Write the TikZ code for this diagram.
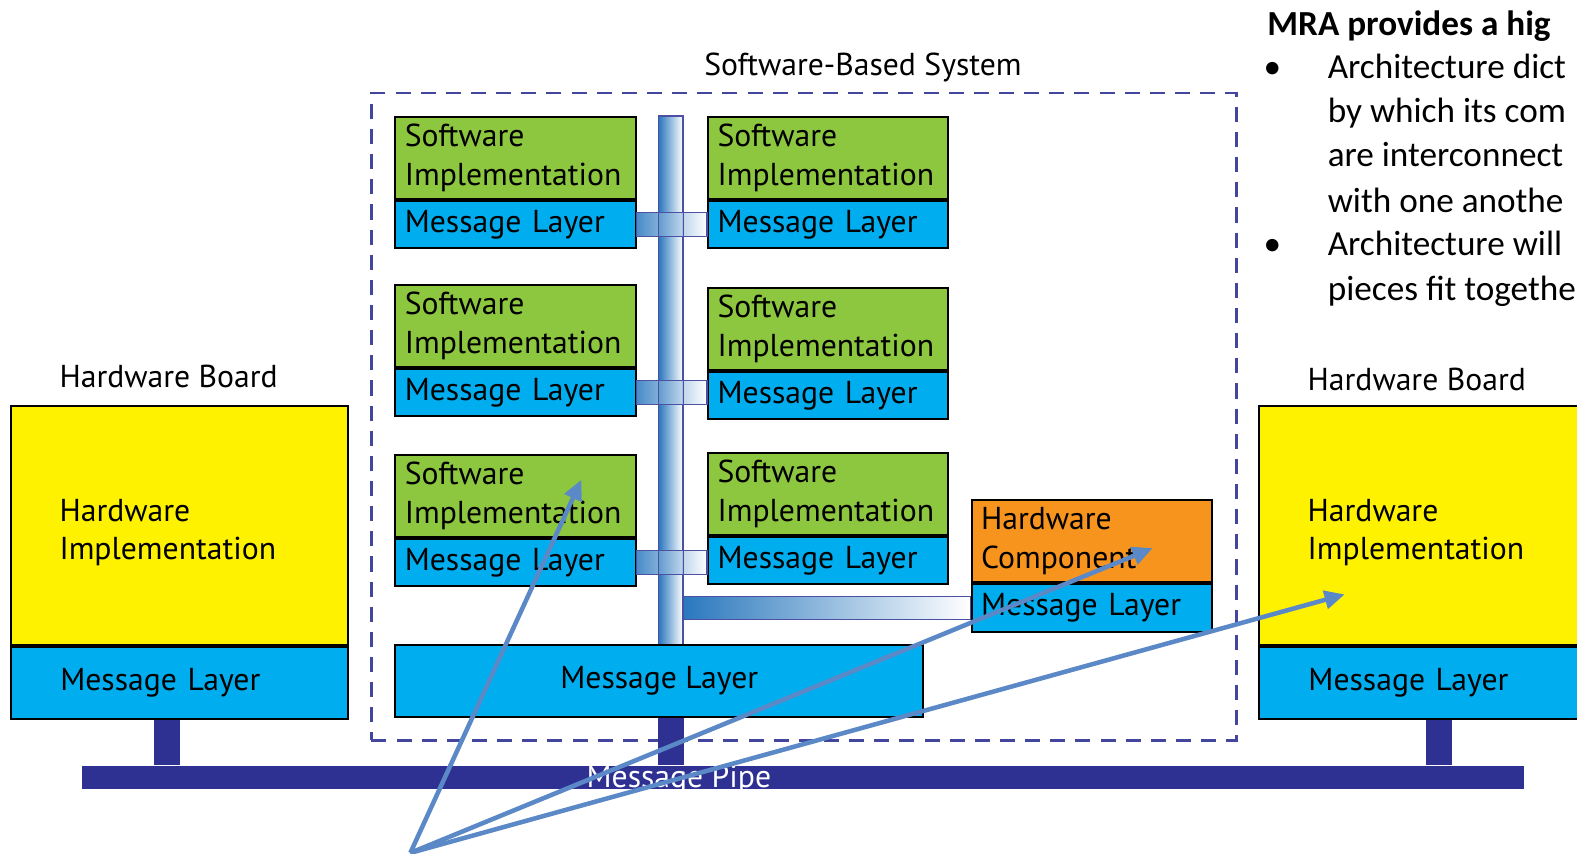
\documentclass[tikz,border=0pt]{standalone}
\usepackage{fontspec}
\setmainfont{PT Sans}
\newfontfamily\notefont{Carlito}
\usetikzlibrary{positioning,arrows.meta}

\definecolor{swgreen}{HTML}{8DC63F}
\definecolor{msgblue}{HTML}{00AEEF}
\definecolor{hwyellow}{HTML}{FFF200}
\definecolor{hworange}{HTML}{F7941D}
\definecolor{pipenavy}{HTML}{2E3192}
\definecolor{busblue}{HTML}{2A78BE}
\definecolor{callblue}{HTML}{5B88C6}

\begin{document}
\begin{tikzpicture}
 [x=1pt, y=-1pt,
  box text/.style={font=\fontsize{31.5}{38.5}\selectfont},
  sw node/.style={box text, draw, line width=2pt, fill=swgreen, minimum height=82pt, text width=220pt, inner xsep=9.5pt, inner ysep=0pt, align=left},
  hwc node/.style={sw node, fill=hworange},
  msg node/.style={box text, draw, line width=2pt, fill=msgblue, minimum height=47pt, text width=220pt, inner xsep=9.5pt, inner ysep=0pt, align=left},
  hw node/.style={draw, line width=2pt, fill=hwyellow, minimum width=335pt, minimum height=237pt, inner sep=0pt},
  hw text/.style={box text, align=left, anchor=west, inner sep=0pt, xshift=49pt, yshift=-7pt},
  board msg/.style={msg node, minimum height=72pt, text width=237pt, inner xsep=49pt},
  bus/.style={draw=pipenavy!85, line width=1.2pt, left color=busblue, right color=white},
  stem/.style={draw=pipenavy, line width=26pt},
  sysframe/.style={draw=pipenavy!90!white, line width=2.5pt, dash pattern=on 15pt off 10pt},
  call arrow/.style={draw=callblue, line width=4.5pt, -{Triangle[length=20pt,width=18pt]}},
  note/.style={font=\notefont\fontsize{35}{44}\selectfont, inner sep=0pt}]

 \useasboundingbox (0,0) rectangle (1568,849);
 \fill[white] (0,0) rectangle (1568,849);

 % system frame
 \node[sysframe, anchor=north west, minimum width=860pt, minimum height=644pt] (sys) at (368,91) {};
 \node[box text] (syslabel) at (858,67) {Software-Based System};

 % software modules
 \node[sw node, anchor=north west] (sw1) at (392,115) {Software\\Implementation};
 \node[msg node, below=0pt of sw1] (ml1) {Message Layer};
 \node[sw node, anchor=north west] (sw2) at (392,282) {Software\\Implementation};
 \node[msg node, below=0pt of sw2] (ml2) {Message Layer};
 \node[sw node, anchor=north west] (sw3) at (392,451) {Software\\Implementation};
 \node[msg node, below=0pt of sw3] (ml3) {Message Layer};

 \node[sw node, anchor=north west] (sw4) at (703,115) {Software\\Implementation};
 \node[msg node, below=0pt of sw4] (ml4) {Message Layer};
 \node[sw node, anchor=north west] (sw5) at (703,285) {Software\\Implementation};
 \node[msg node, below=0pt of sw5] (ml5) {Message Layer};
 \node[sw node, anchor=north west] (sw6) at (703,449) {Software\\Implementation};
 \node[msg node, below=0pt of sw6] (ml6) {Message Layer};

 \node[hwc node, anchor=north west] (hwc) at (965,496) {Hardware\\Component};
 \node[msg node, below=0pt of hwc] (hcm) {Message Layer};

 % internal bus
 \node[bus, anchor=north, minimum width=24pt, minimum height=525pt, inner sep=0pt] (vbus) at (667,115) {};
 \path[bus, fill opacity=0.85] ([yshift=12pt]ml1.east) rectangle ([yshift=-12pt]ml1.east -| ml4.west);
 \path[bus, fill opacity=0.85] ([yshift=12pt]ml2.east) rectangle ([yshift=-12pt]ml2.east -| ml5.west);
 \path[bus, fill opacity=0.85] ([yshift=12pt]ml3.east) rectangle ([yshift=-12pt]ml3.east -| ml6.west);
 \draw[pipenavy!85, line width=1.2pt] (vbus.north west) rectangle (vbus.south east);
 \path[bus] ([yshift=11.5pt]hcm.west -| vbus.east) rectangle ([yshift=-11.5pt]hcm.west);

 \node[box text, draw, line width=2pt, fill=msgblue, anchor=north west, minimum width=525pt, minimum height=72pt] (bigmsg) at (392,640) {Message Layer};

 % hardware boards
 \node[hw node, anchor=north west, label={[hw text]west:Hardware\\Implementation}] (lhw) at (10,403) {};
 \node[board msg, below=0pt of lhw] (lhm) {Message Layer};
 \node[box text, anchor=west, inner sep=0pt] (lhwlabel) at (59,374) {Hardware Board};

 \node[hw node, anchor=north west, label={[hw text]west:Hardware\\Implementation}] (rhw) at (1251,403) {};
 \node[board msg, below=0pt of rhw] (rhm) {Message Layer};
 \node[box text, anchor=west, inner sep=0pt] (rhwlabel) at (1300,377) {Hardware Board};

 % message pipe
 \node[fill=pipenavy, anchor=north west, minimum width=1434pt, minimum height=23pt, inner sep=0pt] (pipe) at (81,761) {};
 \coordinate (lstem) at ([xshift=156pt]lhm.south west);
 \coordinate (rstem) at ([xshift=180pt]rhm.south west);
 \draw[stem] (lstem) -- (lstem |- pipe.north);
 \draw[stem] (vbus.south |- bigmsg.south) -- (vbus.south |- pipe.north);
 \draw[stem] (rstem) -- (rstem |- pipe.north);
 \node[box text, text=white] (pipelabel) at (675,775) {Message Pipe};

 % notes
 \node[note, anchor=base west] (mra) at (1260,35) {\bfseries MRA provides a hig};
 \node[note, anchor=base] (dot1) at (1265,77.6) {•};
 \node[note, anchor=base west] (n1) at (1320,77.6) {Architecture dict};
 \node[note, anchor=base west] (n2) at (1320,121.8) {by which its com};
 \node[note, anchor=base west] (n3) at (1320,166) {are interconnect};
 \node[note, anchor=base west] (n4) at (1320,210.8) {with one anothe};
 \node[note, anchor=base] (dot2) at (1265,254.5) {•};
 \node[note, anchor=base west] (n5) at (1320,254.5) {Architecture will};
 \node[note, anchor=base west] (n6) at (1320,298.8) {pieces fit togethe};

 % callouts
 \coordinate (src) at (408,848);
 \coordinate (tsw) at (578,477);
 \coordinate (thwc) at (1146,545);
 \coordinate (thw) at (1337,591);
 \path
   (src) edge [call arrow] (tsw)
   (src) edge [call arrow] (thwc)
   (src) edge [call arrow] (thw);

\end{tikzpicture}
\end{document}
